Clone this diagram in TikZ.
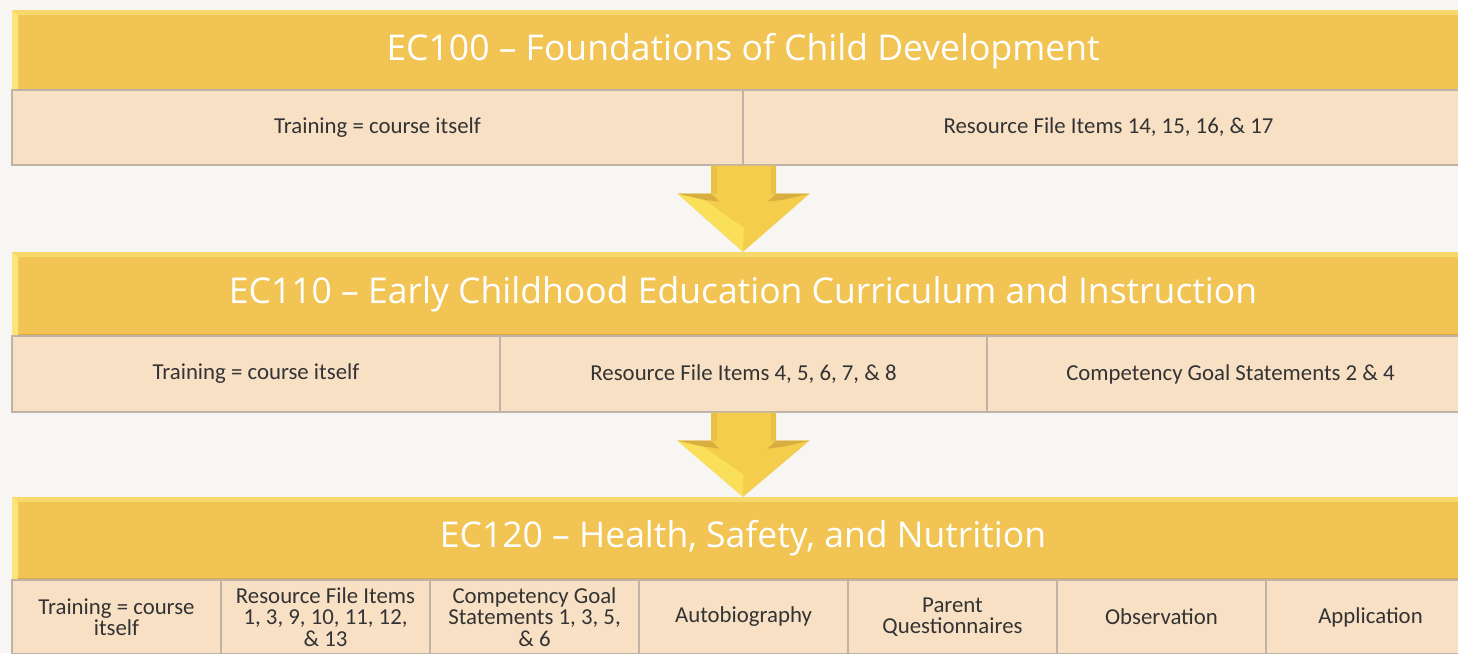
\documentclass[tikz,border=0pt]{standalone}
\usepackage{fontspec}
\setmainfont{Carlito}
\newfontfamily\titlefont{Open Sans}
\usetikzlibrary{calc}
\definecolor{bgpaper}{HTML}{F7F6F2}
\definecolor{hdrgold}{HTML}{F1C453}
\definecolor{hdrlight}{HTML}{FBE57A}
\definecolor{hdrdark}{HTML}{D9AB42}
\definecolor{cellpeach}{HTML}{F8E0C5}
\definecolor{cellline}{HTML}{BFB3A8}
\definecolor{celltext}{HTML}{333333}
\definecolor{arrowgold}{HTML}{F4CD4C}
\definecolor{arrowdark}{HTML}{D8AE40}
\definecolor{arrowlight}{HTML}{FAE05A}
\tikzset{
  hdr/.style={rectangle, fill=hdrgold, minimum width=1462pt, minimum height=#1,
    inner sep=0pt, text=white, font=\titlefont\fontsize{35.5}{42}\selectfont,
    path picture={
      \fill[hdrlight!60!hdrgold] (path picture bounding box.north west) -- (path picture bounding box.north east)
        -- ++(0pt,-5pt) -- ($(path picture bounding box.north west)+(6pt,-5pt)$) -- cycle;
      \fill[hdrlight] (path picture bounding box.north west) -- ++(6pt,-5pt)
        -- ($(path picture bounding box.south west)+(6pt,0pt)$) -- (path picture bounding box.south west) -- cycle;
      \fill[hdrdark] ($(path picture bounding box.south west)+(6pt,0pt)$) rectangle ($(path picture bounding box.south east)+(0pt,2pt)$);
    }},
  hdr/.default=82pt,
  cell/.style={rectangle, fill=cellpeach, draw=cellline, line width=1.3pt,
    minimum width=#1, inner sep=2pt, align=center, text=celltext,
    font=\fontsize{22.8}{21.5}\selectfont},
  blockarrow/.style={fill=arrowgold, draw=none},
}
\begin{document}
\begin{tikzpicture}[x=1pt,y=-1pt]
\useasboundingbox (0,0) rectangle (1458,653);
\clip (0,0) rectangle (1458,653);
\fill[bgpaper] (0,0) rectangle (1458,653);
%%
\node (hdr_0) at (743,51) [hdr=82pt] {EC100 – Foundations of Child Development};
  \node (cell_0_0) at (377.5,127.5) [cell=731pt, minimum height=75pt] {Training = course itself};
  \node (cell_0_1) at (1108.5,127.5) [cell=731pt, minimum height=75pt] {Resource File Items 14, 15, 16, \& 17};
\node (hdr_1) at (743,294) [hdr=84pt] {EC110 – Early Childhood Education Curriculum and Instruction};
  \node (cell_1_0) at (256,374) [cell=488pt, minimum height=76pt] {Training = course itself};
  \node (cell_1_1) at (743.5,374) [cell=487pt, minimum height=76pt] {Resource File Items 4, 5, 6, 7, \& 8};
  \node (cell_1_2) at (1230.5,374) [cell=487pt, minimum height=76pt] {Competency Goal Statements 2 \& 4};
\node (hdr_2) at (743,538.5) [hdr=83pt] {EC120 – Health, Safety, and Nutrition};
  \node (cell_2_0) at (116.5,617) [cell=209pt, minimum height=74pt] {Training = course\\itself};
  \node (cell_2_1) at (325.5,617) [cell=209pt, minimum height=74pt] {Resource File Items\\1, 3, 9, 10, 11, 12,\\\& 13};
  \node (cell_2_2) at (534.5,617) [cell=209pt, minimum height=74pt] {Competency Goal\\Statements 1, 3, 5,\\\& 6};
  \node (cell_2_3) at (743.5,617) [cell=209pt, minimum height=74pt] {Autobiography};
  \node (cell_2_4) at (952.5,617) [cell=209pt, minimum height=74pt] {Parent\\Questionnaires};
  \node (cell_2_5) at (1161.5,617) [cell=209pt, minimum height=74pt] {Observation};
  \node (cell_2_6) at (1370.5,617) [cell=209pt, minimum height=74pt] {Application};
%
\coordinate (flow_0) at (cell_0_0.south east);
\coordinate (flow_1) at (cell_1_1.south);
\foreach \src/\dst in {flow_0/hdr_1, flow_1/hdr_2} {
  \fill[blockarrow] ($(\src)+(-32.5pt,0pt)$) -- ($(\src)+(32.5pt,0pt)$) -- ($(\src)+(32.5pt,-28pt)$)
    -- ($(\src)+(66pt,-28pt)$) -- (\dst.north) -- ($(\src)+(-66pt,-28pt)$) -- ($(\src)+(-32.5pt,-28pt)$) -- cycle;
  \fill[arrowlight] ($(\src)+(-66pt,-28pt)$) -- ($(\src)+(-40pt,-34pt)$) -- ($(\src)+(0pt,-62pt)$) -- (\dst.north) -- cycle;
  \fill[arrowdark] ($(\src)+(-66pt,-28pt)$) -- ($(\src)+(-32.5pt,-28pt)$) -- ($(\src)+(-24pt,-36pt)$) -- ($(\src)+(-40pt,-34pt)$) -- cycle;
  \fill[arrowdark] ($(\src)+(66pt,-28pt)$) -- ($(\src)+(32.5pt,-28pt)$) -- ($(\src)+(24pt,-36pt)$) -- ($(\src)+(40pt,-34pt)$) -- cycle;
  \fill[arrowdark!40!arrowgold] ($(\src)+(-32.5pt,0pt)$) rectangle ($(\src)+(-27pt,-28pt)$);
  \fill[arrowdark!40!arrowgold] ($(\src)+(32.5pt,0pt)$) rectangle ($(\src)+(27pt,-28pt)$);
}
%
\end{tikzpicture}
\end{document}
